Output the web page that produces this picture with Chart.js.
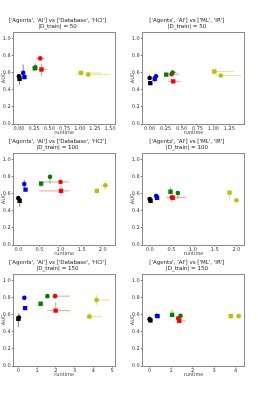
<!DOCTYPE html>
<html>
<head>
<meta charset="utf-8">
<script src="https://cdn.jsdelivr.net/npm/chart.js@4.4.1/dist/chart.umd.min.js"></script>
<style>
  html, body { margin: 0; padding: 0; background: #fff; }
  body { position: relative; width: 258px; height: 401px; overflow: hidden; }
  canvas { position: absolute; }
</style>
</head>
<body>
<script>
// colours: black, blue, green, red, yellow (matplotlib k b g r y)
const markerColors = ['#000000', '#0000ff', '#008000', '#ff0000', '#bfbf00'];
const errorColors = ['rgba(0,0,0,0.5)', 'rgba(0,0,255,0.5)', 'rgba(0,128,0,0.45)', 'rgba(255,0,0,0.4)', 'rgba(191,191,0,0.4)'];

const titleHci = "['Agents', 'AI'] vs ['Database', 'HCI']";
const titleIr = "['Agents', 'AI'] vs ['ML', 'IR']";
const trainSizes = [50, 100, 150];

const yTicks = [0, 0.2, 0.4, 0.6, 0.8, 1.0];
const xTicksHci50 = [0, 0.25, 0.5, 0.75, 1.0, 1.25, 1.5];
const xTicksIr50 = [0, 0.25, 0.5, 0.75, 1.0, 1.25];
const xTicks100 = [0, 0.5, 1.0, 1.5, 2.0];
const xTicksHci150 = [0, 1, 2, 3, 4, 5];
const xTicksIr150 = [0, 1, 2, 3, 4];

// one row per colour: [x, y, x minus, x plus, y minus, y plus]
const hci50Circles = [
  [0.00, 0.56, 0, 0, 0.02, 0.02],
  [0.07, 0.60, 0, 0, 0.04, 0.10],
  [0.27, 0.665, 0.01, 0.01, 0.01, 0.05],
  [0.35, 0.77, 0.07, 0.08, 0.02, 0.02],
  [1.14, 0.58, 0.05, 0.36, 0.01, 0.01]
];
const hci50Squares = [
  [0.01, 0.53, 0, 0, 0.07, 0.01],
  [0.09, 0.55, 0, 0, 0.02, 0.02],
  [0.26, 0.655, 0.01, 0.01, 0.02, 0.02],
  [0.37, 0.64, 0.08, 0.09, 0.08, 0.07],
  [1.02, 0.60, 0.07, 0.34, 0.01, 0.01]
];
const ir50Circles = [
  [0.00, 0.54, 0, 0, 0.02, 0.04],
  [0.10, 0.56, 0, 0, 0.02, 0.02],
  [0.36, 0.605, 0.02, 0.06, 0.02, 0.02],
  [0.345, 0.585, 0.05, 0.12, 0.01, 0.01],
  [1.115, 0.57, 0.08, 0.32, 0.01, 0.01]
];
const ir50Squares = [
  [0.01, 0.48, 0, 0, 0.01, 0.01],
  [0.08, 0.53, 0, 0, 0.04, 0.02],
  [0.26, 0.58, 0.01, 0.01, 0.02, 0.02],
  [0.37, 0.50, 0.08, 0.11, 0.01, 0.01],
  [1.015, 0.617, 0.04, 0.30, 0.04, 0.0]
];
const hci100Circles = [
  [0.00, 0.55, 0, 0, 0.02, 0.02],
  [0.14, 0.715, 0.01, 0.01, 0.05, 0.05],
  [0.75, 0.80, 0.01, 0.01, 0.08, 0.01],
  [1.00, 0.74, 0.50, 0.20, 0.02, 0.02],
  [2.06, 0.70, 0.10, 0.10, 0.06, 0.06]
];
const hci100Squares = [
  [0.03, 0.52, 0, 0, 0.07, 0.01],
  [0.17, 0.65, 0.01, 0.01, 0.02, 0.02],
  [0.54, 0.72, 0.01, 0.01, 0.04, 0.02],
  [1.01, 0.635, 0.51, 0.20, 0.06, 0.06],
  [1.86, 0.635, 0.03, 0.03, 0.03, 0.03]
];
const ir100Circles = [
  [0.00, 0.54, 0, 0, 0.02, 0.02],
  [0.15, 0.575, 0, 0, 0.02, 0.03],
  [0.65, 0.61, 0.01, 0.01, 0.07, 0.01],
  [0.51, 0.56, 0.13, 0.33, 0.06, 0.02],
  [2.00, 0.525, 0.03, 0.06, 0.01, 0.01]
];
const ir100Squares = [
  [0.02, 0.52, 0, 0, 0.03, 0.02],
  [0.17, 0.555, 0, 0, 0.02, 0.02],
  [0.48, 0.625, 0.01, 0.01, 0.02, 0.05],
  [0.53, 0.555, 0.02, 0.02, 0.02, 0.02],
  [1.84, 0.615, 0.03, 0.03, 0.09, 0.0]
];
const hci150Circles = [
  [0.03, 0.57, 0, 0, 0.02, 0.05],
  [0.32, 0.80, 0, 0, 0.01, 0.01],
  [1.55, 0.82, 0.02, 0.02, 0.01, 0.01],
  [1.96, 0.82, 0.02, 0.80, 0.01, 0.01],
  [4.18, 0.775, 0.15, 0.70, 0.06, 0.06]
];
const hci150Squares = [
  [0.00, 0.555, 0, 0, 0.10, 0.02],
  [0.36, 0.68, 0, 0, 0.01, 0.01],
  [1.19, 0.73, 0.03, 0.03, 0.02, 0.02],
  [1.99, 0.65, 0.44, 0.78, 0.01, 0.10],
  [3.79, 0.58, 0.05, 0.68, 0.01, 0.05]
];
const ir150Circles = [
  [0.00, 0.55, 0, 0, 0.02, 0.03],
  [0.34, 0.59, 0, 0, 0.02, 0.02],
  [1.44, 0.59, 0.03, 0.03, 0.02, 0.02],
  [1.33, 0.56, 0.05, 0.20, 0.02, 0.02],
  [4.15, 0.585, 0.02, 0.02, 0.01, 0.01]
];
const ir150Squares = [
  [0.04, 0.535, 0, 0, 0.03, 0.02],
  [0.37, 0.585, 0, 0, 0.02, 0.02],
  [1.05, 0.60, 0.03, 0.03, 0.02, 0.06],
  [1.38, 0.53, 0.10, 0.30, 0.02, 0.02],
  [3.78, 0.585, 0.02, 0.02, 0.03, 0.01]
];

const panels = [
  { row: 0, col: 0, title: titleHci, circles: hci50Circles, squares: hci50Squares, xMin: -0.093, xMax: 1.58, xTicks: xTicksHci50, digits: 2 },
  { row: 0, col: 1, title: titleIr, circles: ir50Circles, squares: ir50Squares, xMin: -0.115, xMax: 1.49, xTicks: xTicksIr50, digits: 2 },
  { row: 1, col: 0, title: titleHci, circles: hci100Circles, squares: hci100Squares, xMin: -0.12, xMax: 2.29, xTicks: xTicks100, digits: 1 },
  { row: 1, col: 1, title: titleIr, circles: ir100Circles, squares: ir100Squares, xMin: -0.17, xMax: 2.19, xTicks: xTicks100, digits: 1 },
  { row: 2, col: 0, title: titleHci, circles: hci150Circles, squares: hci150Squares, xMin: -0.27, xMax: 5.16, xTicks: xTicksHci150, digits: 0 },
  { row: 2, col: 1, title: titleIr, circles: ir150Circles, squares: ir150Squares, xMin: -0.34, xMax: 4.43, xTicks: xTicksIr150, digits: 0 }
];

// draws the light error bars under the markers
const errorBarPlugin = {
  id: 'errorBars',
  beforeDatasetsDraw(chart) {
    const ctx = chart.ctx;
    const xs = chart.scales.x, ys = chart.scales.y;
    ctx.save();
    ctx.lineWidth = 1;
    chart.data.datasets.forEach(ds => {
      ds.errs.forEach((e, i) => {
        const p = ds.data[i];
        ctx.strokeStyle = ds.errColor;
        const px = xs.getPixelForValue(p.x), py = ys.getPixelForValue(p.y);
        ctx.beginPath();
        if (e[0] || e[1]) {
          ctx.moveTo(xs.getPixelForValue(p.x - e[0]), py);
          ctx.lineTo(xs.getPixelForValue(p.x + e[1]), py);
        }
        if (e[2] || e[3]) {
          ctx.moveTo(px, ys.getPixelForValue(p.y - e[2]));
          ctx.lineTo(px, ys.getPixelForValue(p.y + e[3]));
        }
        ctx.stroke();
      });
    });
    ctx.restore();
  }
};

// full box round the plot area, like matplotlib spines
const framePlugin = {
  id: 'frame',
  afterDraw(chart) {
    const { ctx, chartArea: a } = chart;
    ctx.save();
    ctx.strokeStyle = '#8a8a8a';
    ctx.lineWidth = 1;
    ctx.strokeRect(Math.round(a.left) + 0.5, Math.round(a.top) + 0.5,
      Math.round(a.right - a.left), Math.round(a.bottom - a.top));
    ctx.restore();
  }
};

const makeDatasets = (rows, style, radius) => rows.map((r, i) => ({
  data: [{ x: r[0], y: r[1] }],
  errs: [[r[2], r[3], r[4], r[5]]],
  errColor: errorColors[i],
  pointStyle: style,
  pointRadius: radius,
  pointBorderWidth: 0,
  backgroundColor: markerColors[i],
  borderColor: markerColors[i]
}));

const fixTicks = values => scale => { scale.ticks = values.map(v => ({ value: v })); };

panels.forEach(p => {
  const canvas = document.createElement('canvas');
  canvas.width = 129;
  canvas.height = 140;
  canvas.style.left = (p.col * 129) + 'px';
  canvas.style.top = (p.row * 121) + 'px';
  document.body.appendChild(canvas);

  const fitY = scale => { scale.width = 13.3; scale.paddingTop = 0; scale.paddingBottom = 0; };
  const fitX = scale => { scale.height = 11; scale.paddingLeft = 0; scale.paddingRight = 0; };

  new Chart(canvas, {
    type: 'scatter',
    data: {
      datasets: makeDatasets(p.squares, 'rect', 3.1).concat(makeDatasets(p.circles, 'circle', 2.3))
    },
    options: {
      responsive: false,
      animation: false,
      devicePixelRatio: 1,
      layout: { padding: { left: 0, right: p.col === 0 ? 14 : 13.3, top: 17.9, bottom: 5 } },
      plugins: {
        legend: { display: false },
        tooltip: { enabled: false },
        title: {
          display: true,
          text: [p.title, '|D_train| = ' + trainSizes[p.row]],
          color: '#222',
          font: { family: 'DejaVu Sans', size: 5.5, lineHeight: 1.1, weight: 'normal' },
          padding: { top: 0, bottom: 2 }
        }
      },
      scales: {
        x: {
          type: 'linear',
          min: p.xMin,
          max: p.xMax,
          afterBuildTicks: fixTicks(p.xTicks),
          afterFit: fitX,
          border: { display: false },
          grid: { drawOnChartArea: false, drawTicks: true, tickLength: 1.5, color: '#777' },
          ticks: {
            padding: 0,
            color: '#333',
            maxRotation: 0,
            autoSkip: false,
            font: { family: 'DejaVu Sans', size: 5 },
            callback: v => Number(v).toFixed(p.digits)
          },
          title: {
            display: true,
            text: 'runtime',
            color: '#333',
            padding: 0,
            font: { family: 'DejaVu Sans', size: 5, lineHeight: 1 }
          }
        },
        y: {
          type: 'linear',
          min: 0,
          max: 1.08,
          afterBuildTicks: fixTicks(yTicks),
          afterFit: fitY,
          border: { display: false },
          grid: { drawOnChartArea: false, drawTicks: true, tickLength: 1.5, color: '#777' },
          ticks: {
            padding: 1,
            color: '#333',
            autoSkip: false,
            font: { family: 'DejaVu Sans', size: 5 },
            callback: v => Number(v).toFixed(1)
          },
          title: {
            display: true,
            text: 'AUC',
            color: '#333',
            padding: { top: 1, bottom: 0 },
            font: { family: 'DejaVu Sans', size: 5, lineHeight: 1 }
          }
        }
      }
    },
    plugins: [errorBarPlugin, framePlugin]
  });
});
</script>
</body>
</html>
